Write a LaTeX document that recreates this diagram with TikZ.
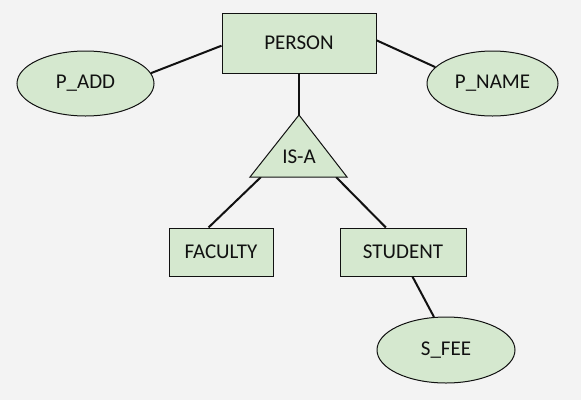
\documentclass[tikz,border=0pt]{standalone}
\usepackage{fontspec}
\setmainfont{Carlito}
\usetikzlibrary{shapes.geometric}
\definecolor{bg}{HTML}{F3F3F3}
\definecolor{fillg}{HTML}{D5E8CF}
\definecolor{edge}{HTML}{111111}
\pgfdeclarelayer{bgl}
\pgfdeclarelayer{conl}
\pgfsetlayers{bgl,conl,main}
\begin{document}
\begin{tikzpicture}[x=1pt,y=-1pt,
  lbl/.style={font=\fontsize{21}{24}\selectfont,text=edge},
  ent/.style={lbl,draw=edge,fill=fillg,line width=1pt,rectangle,inner sep=0pt},
  attr/.style={lbl,draw=edge,fill=fillg,line width=1pt,ellipse,inner sep=0pt},
  conn/.style={draw=edge,line width=2pt}]
\begin{pgfonlayer}{bgl}
\fill[bg] (0,0) rectangle (581,400);
\end{pgfonlayer}
\useasboundingbox (0,0) rectangle (581,400);
\node[ent,minimum width=154pt,minimum height=60pt] (person) at (299,43) {PERSON};
\node[attr,minimum width=137pt,minimum height=65pt] (padd) at (85.5,83.5) {P\_ADD};
\node[attr,minimum width=131pt,minimum height=65pt] (pname) at (492.5,83.5) {P\_NAME};
\node[ent,minimum width=104pt,minimum height=48pt] (faculty) at (221,252) {FACULTY};
\node[ent,minimum width=126pt,minimum height=48pt] (student) at (403,252) {STUDENT};
\node[attr,minimum width=138pt,minimum height=66pt] (sfee) at (446,350) {S\_FEE};
\coordinate (apex) at (299,115);
\coordinate (bl) at (250,177);
\coordinate (br) at (347,177);
\coordinate (tl) at (261,177);
\coordinate (tr) at (336,177);
\filldraw[draw=edge,fill=fillg,line width=1pt,line join=miter] (apex) -- (br) -- (bl) -- cycle;
\node[lbl,inner sep=0pt] (isa) at (299,157) {IS-A};
\begin{pgfonlayer}{conl}
\draw[conn] (padd.9) -- (person.182);
\draw[conn] (person.2) -- (pname.164);
\draw[conn] (person.south) -- (apex);
\draw[conn] (tl) -- (faculty.117);
\draw[conn] (tr) -- (student.125);
\draw[conn] (student.291) -- (sfee.110);
\end{pgfonlayer}
\end{tikzpicture}
\end{document}
